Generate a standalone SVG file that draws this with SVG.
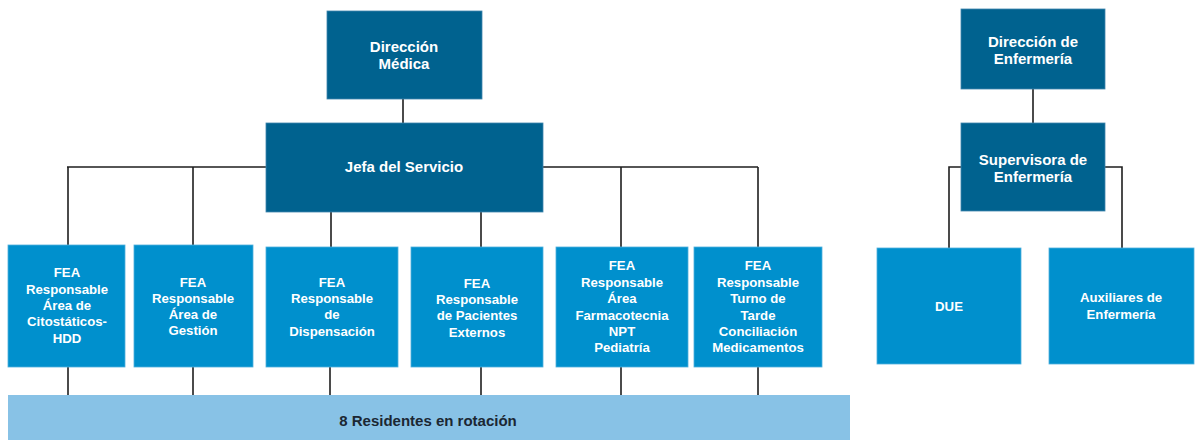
<svg xmlns="http://www.w3.org/2000/svg" width="1198" height="440" viewBox="0 0 1198 440">
<style>
.dark{fill:#00628f;stroke:#3f86ad;stroke-width:0.8}
.light{fill:#0090cd;stroke:#4fb0dd;stroke-width:0.8}
.bar{fill:#88c2e6}
text{font-family:"Liberation Sans",Arial,sans-serif;font-weight:bold;font-size:13.2px;fill:#ffffff;text-anchor:middle;dominant-baseline:central}
.big{font-size:15px}
.rtext{fill:#1b2733;font-size:15px}
.lines line,.lines polyline{stroke:#1e1e1e;stroke-width:1.6;fill:none}
</style>
<rect width="1198" height="440" fill="#ffffff"/>
<g class="lines" id="connectors">
<line x1="403" y1="99" x2="403" y2="123"/>
<line x1="67" y1="167" x2="266" y2="167"/>
<line x1="543" y1="167" x2="758" y2="167"/>
<line x1="68" y1="167" x2="68" y2="245"/>
<line x1="193" y1="167" x2="193" y2="245"/>
<line x1="621" y1="167" x2="621" y2="247"/>
<line x1="758" y1="167" x2="758" y2="247"/>
<line x1="331" y1="212" x2="331" y2="247"/>
<line x1="481" y1="212" x2="481" y2="247"/>
<line x1="68" y1="367" x2="68" y2="395"/>
<line x1="193" y1="367" x2="193" y2="395"/>
<line x1="330" y1="367" x2="330" y2="395"/>
<line x1="481" y1="367" x2="481" y2="395"/>
<line x1="621" y1="367" x2="621" y2="395"/>
<line x1="758" y1="367" x2="758" y2="395"/>
<line x1="1033" y1="89" x2="1033" y2="123"/>
<polyline points="961,167 949,167 949,248"/>
<polyline points="1105,167 1122,167 1122,248"/>
</g>
<g id="direccion-medica">
<rect class="dark" x="327" y="11" width="155" height="88"/>
<text class="big" x="404" y="46">Dirección</text>
<text class="big" x="404" y="63">Médica</text>
</g>
<g id="jefe-servicio">
<rect class="dark" x="266" y="123" width="277" height="89"/>
<text class="big" x="404" y="166">Jefa del Servicio</text>
</g>
<g id="fea-citostaticos">
<rect class="light" x="8" y="245" width="117" height="122"/>
<text x="67" y="272">FEA</text>
<text x="67" y="289">Responsable</text>
<text x="67" y="305">Área de</text>
<text x="67" y="321">Citostáticos-</text>
<text x="67" y="338">HDD</text>
</g>
<g id="fea-gestion">
<rect class="light" x="134" y="245" width="119" height="122"/>
<text x="193" y="282">FEA</text>
<text x="193" y="298">Responsable</text>
<text x="193" y="314">Área de</text>
<text x="193" y="330">Gestión</text>
</g>
<g id="fea-dispensacion">
<rect class="light" x="266" y="247" width="132" height="120"/>
<text x="332" y="282">FEA</text>
<text x="332" y="298">Responsable</text>
<text x="332" y="314">de</text>
<text x="332" y="331">Dispensación</text>
</g>
<g id="fea-pacientes">
<rect class="light" x="411" y="247" width="132" height="120"/>
<text x="477" y="283">FEA</text>
<text x="477" y="299">Responsable</text>
<text x="477" y="315">de Pacientes</text>
<text x="477" y="332">Externos</text>
</g>
<g id="fea-farmacotecnia">
<rect class="light" x="556" y="247" width="132" height="120"/>
<text x="622" y="265">FEA</text>
<text x="622" y="282">Responsable</text>
<text x="622" y="298">Área</text>
<text x="622" y="315">Farmacotecnia</text>
<text x="622" y="331">NPT</text>
<text x="622" y="347">Pediatría</text>
</g>
<g id="fea-turno-tarde">
<rect class="light" x="694" y="247" width="128" height="120"/>
<text x="758" y="265">FEA</text>
<text x="758" y="282">Responsable</text>
<text x="758" y="298">Turno de</text>
<text x="758" y="315">Tarde</text>
<text x="758" y="331">Conciliación</text>
<text x="758" y="347">Medicamentos</text>
</g>
<g id="residentes">
<rect class="bar" x="8" y="395" width="842" height="45"/>
<text class="rtext" x="428" y="420">8 Residentes en rotación</text>
</g>
<g id="direccion-enfermeria">
<rect class="dark" x="961" y="9" width="144" height="80"/>
<text class="big" x="1033" y="41">Dirección de</text>
<text class="big" x="1033" y="58">Enfermería</text>
</g>
<g id="supervisora">
<rect class="dark" x="961" y="123" width="144" height="88"/>
<text class="big" x="1033" y="159">Supervisora de</text>
<text class="big" x="1033" y="176">Enfermería</text>
</g>
<g id="due">
<rect class="light" x="877" y="248" width="144" height="116"/>
<text x="949" y="306">DUE</text>
</g>
<g id="auxiliares">
<rect class="light" x="1049" y="248" width="145" height="116"/>
<text x="1121" y="297">Auxiliares de</text>
<text x="1121" y="314">Enfermería</text>
</g>
</svg>
